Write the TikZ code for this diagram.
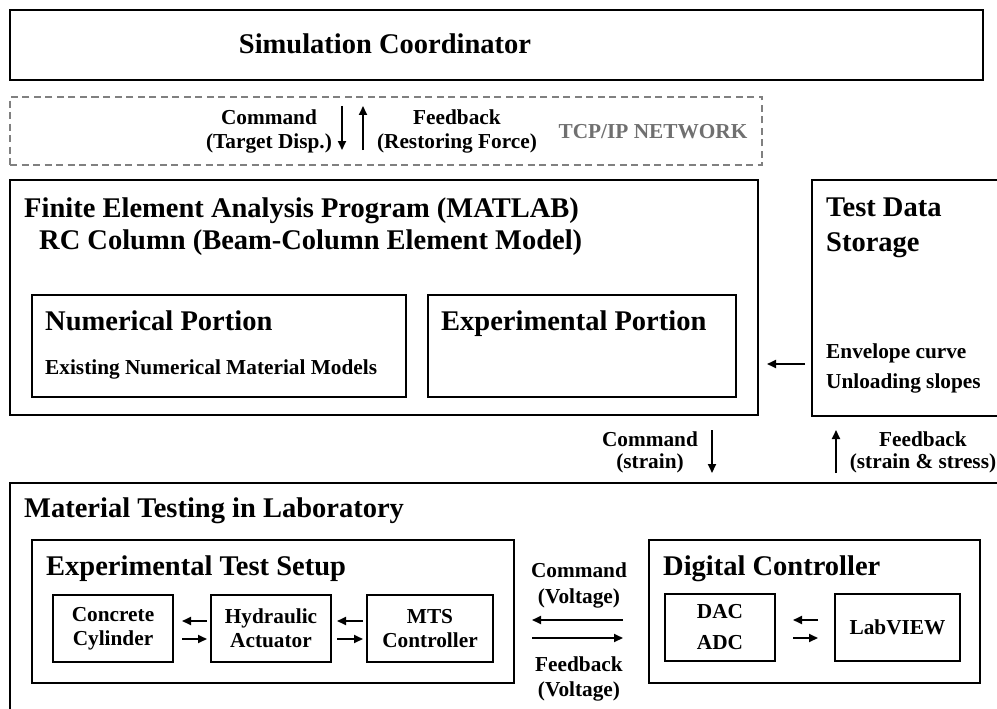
\documentclass[tikz,border=0pt]{standalone}
\usepackage{fontspec}
\setmainfont{Liberation Serif}
\usetikzlibrary{arrows.meta, positioning, calc}
\definecolor{netgray}{HTML}{707070}
\definecolor{dashgray}{HTML}{808080}
\newcommand{\headfont}{\fontsize{28.5}{34}\selectfont\bfseries}
\newcommand{\notefont}{\fontsize{21.3}{24}\selectfont\bfseries}
\tikzset{
  frame/.style={draw=black, line width=1.8pt, inner sep=0pt, outer sep=0pt},
  netbox/.style={draw=dashgray, line width=1.5pt, dash pattern=on 7pt off 4.5pt,
                 inner sep=0pt, outer sep=0pt},
  unitbox/.style={frame, font=\notefont, align=center,
                  minimum width=120pt, minimum height=67pt},
  heading/.style={font=\headfont, anchor=base west, inner sep=0pt},
  note/.style={font=\notefont, anchor=base west, inner sep=0pt},
  lbl/.style={font=\notefont, align=center, inner sep=0pt},
  arr/.style={-{Triangle[length=9pt,width=8pt]}, line width=2pt},
}
\begin{document}
\begin{tikzpicture}[x=1pt, y=-1pt]
  \useasboundingbox (0,0) rectangle (997,709);
  \clip (0,0) rectangle (997,709);

  % coordinator and network
  \node[frame, minimum width=973pt, minimum height=70pt] (sim) at (496.5,45) {};
  \node[heading, anchor=base] (simtxt) at (385,54) {Simulation Coordinator};
  \node[netbox, minimum width=752pt, minimum height=68pt] (net) at (386,131) {};
  \node[lbl] (cmdtxt) at (269,131) {Command\\(Target Disp.)};
  \node[lbl] (fbtxt) at (457,131) {Feedback\\(Restoring Force)};
  \node[lbl, text=netgray] (nettxt) at (653,132) {TCP/IP NETWORK};

  % analysis program
  \node[frame, minimum width=748pt, minimum height=235pt] (fea) at (384,297.5) {};
  \node[heading] (featxt) at (24,217) {Finite Element Analysis Program (MATLAB)};
  \node[heading] (rctxt) at (39,249) {RC Column (Beam-Column Element Model)};
  \node[frame, minimum width=374pt, minimum height=102pt] (nump) at (219,346) {};
  \node[heading] (numtxt) at (45,330) {Numerical Portion};
  \node[note] (modtxt) at (45,374) {Existing Numerical Material Models};
  \node[frame, minimum width=308pt, minimum height=102pt] (expp) at (582,346) {};
  \node[heading] (exptxt) at (441,330) {Experimental Portion};

  % stored test data
  \node[frame, minimum width=200pt, minimum height=236pt] (store) at (912,298) {};
  \node[heading] (storetxt) at (826,216) {Test Data};
  \node[heading] (storetxtb) at (826,251) {Storage};
  \node[note] (envtxt) at (826,358) {Envelope curve};
  \node[note] (unltxt) at (826,388) {Unloading slopes};

  % laboratory
  \node[frame, minimum width=1000pt, minimum height=240pt] (mat) at (510,603) {};
  \node[heading] (mattxt) at (24,517) {Material Testing in Laboratory};
  \node[frame, minimum width=482pt, minimum height=143pt] (setup) at (273,611.5) {};
  \node[heading] (setuptxt) at (46,575) {Experimental Test Setup};
  \node[unitbox] (conc) at (113,628.5) {Concrete\\Cylinder};
  \node[unitbox] (hyd) at (271,628.5) {Hydraulic\\Actuator};
  \node[unitbox, minimum width=126pt] (mts) at (430,628.5) {MTS\\Controller};
  \node[frame, minimum width=331pt, minimum height=143pt] (dctl) at (814.5,611.5) {};
  \node[heading] (dctltxt) at (663,575) {Digital Controller};
  \node[unitbox, minimum width=110pt] (dac) at (720,627.5) {DAC\\[7pt]ADC};
  \node[unitbox, minimum width=125pt] (lab) at (897.5,627.5) {LabVIEW};

  \node[lbl] (vcmdtxt) at (579,585) {Command\\[2pt](Voltage)};
  \node[lbl] (vfbtxt) at (579,679) {Feedback\\[1pt](Voltage)};
  \node[lbl] (scmdtxt) at (650,452) {Command\\[-2pt](strain)};
  \node[lbl] (sfbtxt) at (923,452) {Feedback\\[-2pt](strain \& stress)};

  % connectors
  \coordinate (cmdx) at (342,0);
  \coordinate (fbx) at (363,0);
  \coordinate (strx) at (712,0);
  \coordinate (ssx) at (836,0);
  \coordinate (envy) at (0,364);
  \coordinate (vly) at (0,620);
  \coordinate (vry) at (0,638);
  \draw[arr, shorten <=26pt, shorten >=30pt] (sim.south -| cmdx) -- (fea.north -| cmdx);
  \draw[arr, shorten <=30pt, shorten >=26pt] (fea.north -| fbx) -- (sim.south -| fbx);
  \draw[arr, shorten <=7pt, shorten >=9pt] (store.west |- envy) -- (fea.east |- envy);
  \draw[arr, shorten <=15pt, shorten >=10pt] (fea.south -| strx) -- (mat.north -| strx);
  \draw[arr, shorten <=10pt, shorten >=14pt] (mat.north -| ssx) -- (store.south -| ssx);

  \draw[arr, shorten <=4pt, shorten >=9pt] ([yshift=7.5pt]hyd.west) -- ([yshift=7.5pt]conc.east);
  \draw[arr, shorten <=9pt, shorten >=4pt] ([yshift=-10.5pt]conc.east) -- ([yshift=-10.5pt]hyd.west);
  \draw[arr, shorten <=4pt, shorten >=6pt] ([yshift=7.5pt]mts.west) -- ([yshift=7.5pt]hyd.east);
  \draw[arr, shorten <=6pt, shorten >=4pt] ([yshift=-10.5pt]hyd.east) -- ([yshift=-10.5pt]mts.west);
  \draw[arr, shorten <=26pt, shorten >=18pt] (dctl.west |- vly) -- (setup.east |- vly);
  \draw[arr, shorten <=18pt, shorten >=26pt] (setup.east |- vry) -- (dctl.west |- vry);
  \draw[arr, shorten <=17pt, shorten >=18pt] ([yshift=7.5pt]lab.west) -- ([yshift=7.5pt]dac.east);
  \draw[arr, shorten <=18pt, shorten >=17pt] ([yshift=-10.5pt]dac.east) -- ([yshift=-10.5pt]lab.west);
\end{tikzpicture}
\end{document}
